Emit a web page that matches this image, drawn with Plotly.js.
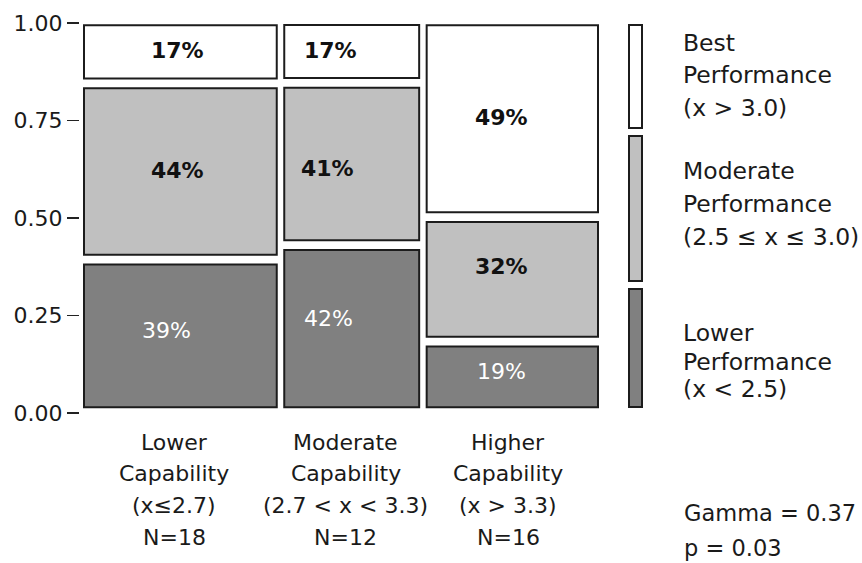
<!DOCTYPE html>
<html>
<head>
<meta charset="utf-8">
<script src="https://cdn.plot.ly/plotly-3.0.1.min.js"></script>
<style>html,body{margin:0;padding:0;background:#fff;}#chart{width:862px;height:563px;}</style>
</head>
<body>
<div id="chart"></div>
<script>
// ---- data ----
const counts = [18, 12, 16];
// drawn column widths (in N units)
const colWidths = [18, 12.6, 16];
const catLines = [
  ['Lower', 'Capability', '(x\u22642.7)', 'N=18'],
  ['Moderate', 'Capability', '(2.7 < x < 3.3)', 'N=12'],
  ['Higher', 'Capability', '(x > 3.3)', 'N=16']
];
const levelNames = ['Lower Performance', 'Moderate Performance', 'Best Performance'];
// share of each column drawn for each performance level (box heights)
const lowerShare    = [0.394, 0.434, 0.168];
const moderateShare = [0.459, 0.421, 0.316];
const bestShare     = [0.147, 0.146, 0.516];
const lowerLabels    = ['39%', '42%', '19%'];
const moderateLabels = ['44%', '41%', '32%'];
const bestLabels     = ['17%', '17%', '49%'];
const legendLines = [
  ['Best', 'Performance', '(x > 3.0)'],
  ['Moderate', 'Performance', '(2.5 \u2264 x \u2264 3.0)'],
  ['Lower', 'Performance', '(x < 2.5)']
];
const statLines = ['Gamma = 0.37', 'p = 0.03'];
const yTickVals = [0, 0.25, 0.5, 0.75, 1];
const yTickText = ['0.00', '0.25', '0.50', '0.75', '1.00'];

// ---- layout / style ----
const W = 862, H = 563;
const M = {l: 80, r: 212, t: 23, b: 150};
const plotW = W - M.l - M.r, plotH = H - M.t - M.b;
const colGap = 0.7;           // gap between columns (x units)
const rowGap = 0.025;         // gap between stacked boxes (y units)
const yBottom = 0.0146, yTop = 0.994;
const span = yTop - yBottom - 2 * rowGap;
const fills = ['#808080', '#c0c0c0', '#ffffff'];
const edge = '#1c1c1c';
const txt = '#1a1a1a';
const FONT = 'DejaVu Sans';
const pxX = p => (p - M.l) / plotW;
const pxY = p => (H - M.b - p) / plotH;

// column geometry
const centers = [];
let acc = 0;
colWidths.forEach((w) => { centers.push(acc + w / 2); acc += w + colGap; });
const xMax = acc - colGap;
const pxPerUnit = 514 / xMax;
const xr0 = -4 / pxPerUnit;
const xRange = [xr0, xr0 + plotW / pxPerUnit];

const shares = [lowerShare, moderateShare, bestShare];
const labels = [lowerLabels, moderateLabels, bestLabels];
const bases = [[], [], []], heights = [[], [], []];
counts.forEach((n, c) => {
  let b = yBottom;
  for (let k = 0; k < 3; k++) {
    const h = shares[k][c] * span;
    bases[k].push(b); heights[k].push(h);
    b += h + rowGap;
  }
});

const traces = shares.map((s, k) => ({
  type: 'bar', name: levelNames[k],
  x: centers, width: colWidths, base: bases[k], y: heights[k],
  marker: {color: fills[k], line: {color: edge, width: 2}},
  hoverinfo: 'skip', showlegend: false
}));

// label nudges (pixels), per level then per column
const shiftX = [[-14, -23, -11], [-3, -24, -11], [-3, -21, -11]];
const shiftY = [[5, 10, 5], [1, -5, 13], [1, 1, 1]];
const annotations = [];
for (let k = 0; k < 3; k++) {
  counts.forEach((n, c) => {
    annotations.push({
      x: centers[c], y: bases[k][c] + heights[k][c] / 2, xref: 'x', yref: 'y',
      text: labels[k][c], showarrow: false, xshift: shiftX[k][c], yshift: shiftY[k][c],
      font: {family: FONT, size: 22, color: k === 0 ? '#ffffff' : '#111',
             weight: k === 0 ? 'normal' : 'bold'}
    });
  });
}
// category labels
const catShift = [-6, -6, -4];
const catY0 = 442, catStep = 31.7;
catLines.forEach((lines, c) => {
  lines.forEach((t, j) => {
    annotations.push({
      x: centers[c], xref: 'x', y: pxY(catY0 + j * catStep), yref: 'paper',
      text: t, showarrow: false, xanchor: 'center', yanchor: 'middle', xshift: catShift[c],
      font: {family: FONT, size: 22, color: txt}
    });
  });
});
// legend
const legendY = [[43, 75, 108], [171, 204, 237], [333, 362, 389]];
const legendBox = [[25, 128], [136, 281], [289, 407]];
const legendFill = ['#ffffff', '#c0c0c0', '#808080'];
const shapes = [];
legendLines.forEach((lines, g) => {
  shapes.push({
    type: 'rect', xref: 'paper', yref: 'paper',
    x0: pxX(629), x1: pxX(642), y0: pxY(legendBox[g][1]), y1: pxY(legendBox[g][0]),
    fillcolor: legendFill[g], line: {color: edge, width: 2}
  });
  lines.forEach((t, j) => {
    annotations.push({
      x: pxX(681), xref: 'paper', y: pxY(legendY[g][j]), yref: 'paper',
      text: t, showarrow: false, xanchor: 'left', yanchor: 'middle',
      font: {family: FONT, size: 23.5, color: txt}
    });
  });
});
statLines.forEach((t, j) => {
  annotations.push({
    x: pxX(682), xref: 'paper', y: pxY(513 + j * 35), yref: 'paper',
    text: t, showarrow: false, xanchor: 'left', yanchor: 'middle',
    font: {family: FONT, size: 22.5, color: txt}
  });
});

const layout = {
  width: W, height: H, margin: M,
  paper_bgcolor: '#fff', plot_bgcolor: '#fff',
  barmode: 'overlay', bargap: 0,
  showlegend: false,
  xaxis: {range: xRange, visible: false, fixedrange: true},
  yaxis: {range: [0, 1], tickvals: yTickVals, ticktext: yTickText,
          ticks: 'outside', ticklen: 12, tickwidth: 1.5, tickcolor: '#222',
          showgrid: false, zeroline: false, showline: false,
          tickfont: {family: FONT, size: 22, color: txt}, fixedrange: true},
  annotations: annotations, shapes: shapes,
  font: {family: FONT, color: txt}
};
Plotly.newPlot('chart', traces, layout, {displayModeBar: false, staticPlot: true});
</script>
</body>
</html>
